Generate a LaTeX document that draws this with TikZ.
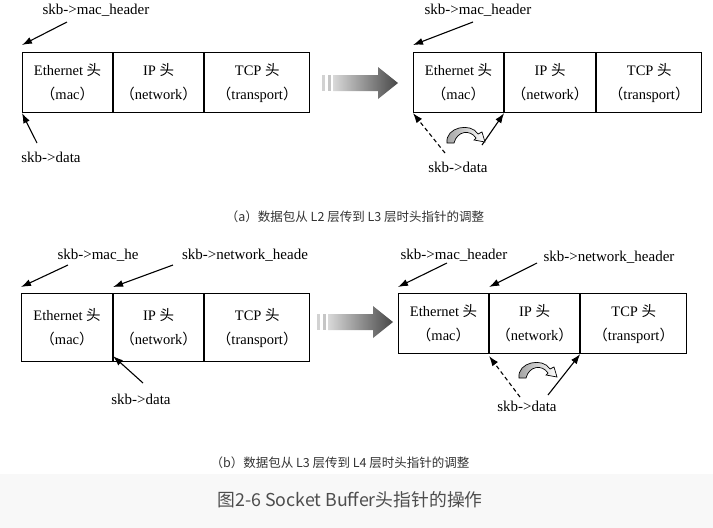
\documentclass[tikz,border=0pt]{standalone}
\usepackage{fontspec}
\setmainfont{Liberation Serif}
\newfontfamily\cjk{Noto Sans CJK SC}
\usetikzlibrary{arrows.meta}
\definecolor{bandgray}{RGB}{248,248,248}
\definecolor{titlegray}{RGB}{77,77,77}
\newcommand\zh[1]{{\cjk #1}}
\begin{document}
\begin{tikzpicture}[x=1pt,y=-1pt,
  cell/.style={draw, line width=1.1pt, anchor=north west, inner sep=0pt, align=center,
    font=\fontsize{14.5}{24}\selectfont},
  lbl/.style={inner sep=0pt, font=\fontsize{15}{16}\selectfont},
  ptr/.style={-{Latex[length=10pt,width=7pt]}, line width=1.1pt},
  dptr/.style={ptr, dash pattern=on 4pt off 3pt},
  captxt/.style={inner sep=0pt, font=\cjk\fontsize{12.5}{14}\selectfont, text=black!80},
  pics/bigarrow/.style={code={
    \fill[gray!35] (0,-8) rectangle (3,8);
    \fill[gray!45] (6,-8) rectangle (9,8);
    \shade[left color=gray!30, right color=black!72]
      (11,-8) -- (56,-8) -- (56,-16) -- (76,0) -- (56,16) -- (56,8) -- (11,8) -- cycle;
  }},
  pics/curlarrow/.style={code={
    \draw[line width=0.7pt, left color=gray!75, right color=white]
      (0,0) .. controls (-2,-16) and (24,-21) .. (31,-9) -- (35,-11) -- (38,-1)
      -- (27,-3) -- (29,-5) .. controls (23,-14) and (10,-12) .. (7,0) -- cycle;
  }}
]
\useasboundingbox (0,0) rectangle (713,528);
\fill[white] (0,0) rectangle (713,474);
\fill[bandgray] (0,474) rectangle (713,528);

% ---------- panel (a), left ----------
\node[cell, minimum width=90, minimum height=60] (a1e) at (22,52) {Ethernet \zh{头}\\\zh{（}mac\zh{）}};
\node[cell, minimum width=90, minimum height=60] (a1i) at (a1e.north east) {IP \zh{头}\\\zh{（}network\zh{）}};
\node[cell, minimum width=105, minimum height=60] (a1t) at (a1i.north east) {TCP \zh{头}\\\zh{（}transport\zh{）}};
\node[lbl] (la1) at (96,10) {skb->mac\_header};
\node[lbl] (la2) at (51,157) {skb->data};
\draw[ptr] ([shift={(-29,12)}]la1.center) -- ([yshift=7pt]a1e.north west);
\draw[ptr] ([shift={(-14,-14)}]la2.center) -- (a1e.south west);

\pic at (322,83) {bigarrow};

% ---------- panel (a), right ----------
\node[cell, minimum width=90, minimum height=60] (a2e) at (413,52) {Ethernet \zh{头}\\\zh{（}mac\zh{）}};
\node[cell, minimum width=91, minimum height=60] (a2i) at (a2e.north east) {IP \zh{头}\\\zh{（}network\zh{）}};
\node[cell, minimum width=105, minimum height=60] (a2t) at (a2i.north east) {TCP \zh{头}\\\zh{（}transport\zh{）}};
\node[lbl] (la3) at (478,10) {skb->mac\_header};
\node[lbl] (la4) at (458,167) {skb->data};
\draw[ptr] ([shift={(-5,12)}]la3.center) -- ([yshift=7pt]a2e.north west);
\draw[dptr] ([shift={(-13,-14)}]la4.center) -- (a2e.south west);
\draw[ptr] ([shift={(24,-22)}]la4.center) -- (a2e.south east);
\pic at (447,143) {curlarrow};

\node[captxt] (capa) at (355,217) {（a）数据包从 L2 层传到 L3 层时头指针的调整};

% ---------- panel (b), left ----------
\node[cell, minimum width=91, minimum height=68] (b1e) at (21,293) {Ethernet \zh{头}\\\zh{（}mac\zh{）}};
\node[cell, minimum width=90, minimum height=68] (b1i) at (b1e.north east) {IP \zh{头}\\\zh{（}network\zh{）}};
\node[cell, minimum width=105, minimum height=68] (b1t) at (b1i.north east) {TCP \zh{头}\\\zh{（}transport\zh{）}};
\node[lbl] (lb1) at (98,255) {skb->mac\_he};
\node[lbl] (lb2) at (245,255) {skb->network\_heade};
\node[lbl] (lb3) at (141,399) {skb->data};
\draw[ptr] ([shift={(-30,10)}]lb1.center) -- ([yshift=6pt]b1e.north west);
\draw[ptr] ([shift={(-72,10)}]lb2.center) -- ([yshift=6pt]b1i.north west);
\draw[ptr] ([shift={(2,-16)}]lb3.center) -- ([yshift=6pt]b1e.south east);

\pic at (317,322) {bigarrow};

% ---------- panel (b), right ----------
\node[cell, minimum width=90, minimum height=60] (b2e) at (398,293) {Ethernet \zh{头}\\\zh{（}mac\zh{）}};
\node[cell, minimum width=90, minimum height=60] (b2i) at (b2e.north east) {IP \zh{头}\\\zh{（}network\zh{）}};
\node[cell, minimum width=106, minimum height=60] (b2t) at (b2i.north east) {TCP \zh{头}\\\zh{（}transport\zh{）}};
\node[lbl] (lb4) at (454,255) {skb->mac\_header};
\node[lbl] (lb5) at (609,257) {skb->network\_header};
\node[lbl] (lb6) at (527,406) {skb->data};
\draw[ptr] ([shift={(-7,8)}]lb4.center) -- ([yshift=6pt]b2e.north west);
\draw[ptr] ([shift={(-72,6)}]lb5.center) -- ([yshift=6pt]b2i.north west);
\draw[dptr] ([shift={(-7,-9)}]lb6.center) -- ([yshift=-2pt]b2i.south west);
\draw[ptr] ([shift={(21,-11)}]lb6.center) -- (b2t.south west);
\pic at (519,378) {curlarrow};

\node[captxt] (capb) at (340,463) {（b）数据包从 L3 层传到 L4 层时头指针的调整};

\node[inner sep=0pt, font=\cjk\fontsize{17.8}{20}\selectfont, text=titlegray] (title) at (350,500) {图2-6 Socket Buffer头指针的操作};
\end{tikzpicture}
\end{document}
